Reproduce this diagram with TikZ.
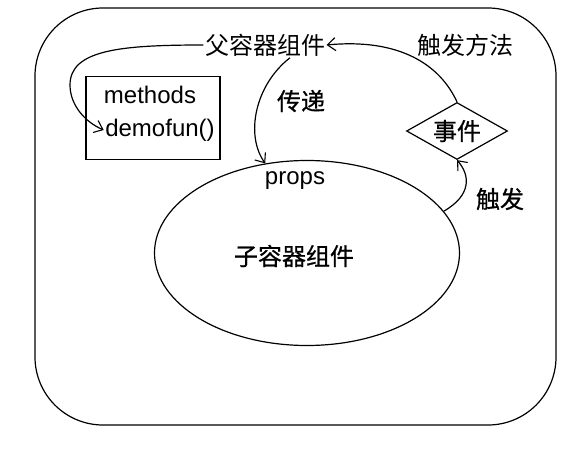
\documentclass[tikz,border=0pt]{standalone}
\usepackage{fontspec}
\setmainfont{Liberation Sans}
\newfontfamily\cjk{Noto Sans CJK SC}
\newfontfamily\cjkb[FakeBold=0.8]{Noto Sans CJK SC}
\usetikzlibrary{arrows.meta,shapes.geometric}

\begin{document}
\begin{tikzpicture}[x=1pt,y=-1pt,line width=1.2pt,
                    arrow/.style = {-{Straight Barb[length=8pt,width=13pt,line width=1.1pt]}},
                    zh/.style = {font=\cjk\fontsize{24}{26}\selectfont,inner sep=1pt},
                    zhb/.style = {font=\cjkb\fontsize{24}{26}\selectfont,inner sep=1pt},
                    en/.style = {font=\fontsize{24}{26}\selectfont,inner sep=1pt}]
                    \useasboundingbox (0,0) rectangle (578,449);

                    \draw[rounded corners=68pt] (35,8) rectangle (556,425);

                    \node [zh] (parent) at (265,45) {父容器组件};
                    \node [zh] (trigmeth) at (465,45) {触发方法};

                    \node [draw, minimum width=134pt, minimum height=83pt] (box) at (153,118) {};
                    \node [en] (methods) at (150,95) {methods};
                    \node [en] (demofun) at (160,130) {demofun()};

                    \node [zhb] (pass) at (301,101) {传递};

                    \node [draw, ellipse, minimum width=305pt, minimum height=185pt] (child) at (307,253) {};
                    \node [en] (props) at (295,181) {props};
                    \node [zhb] (childtext) at (294,256) {子容器组件};

                    \node [draw, diamond, aspect=1.77, inner sep=0pt,
                           minimum width=101pt, minimum height=57pt, zhb] (event) at (457,131) {事件};
                    \node [zhb] (trig) at (500,199) {触发};

                    \draw[arrow] (parent.west) .. controls (120,45) and (70,50) .. (70,85)
                                 .. controls (70,105) and (85,122) .. (demofun.west);
                    \draw[arrow] ([xshift=25pt]parent.south) .. controls (255,85) and (245,135) .. (child.115);
                    \draw[arrow] (event.north) .. controls (440,65) and (400,38) .. (parent.east);
                    \draw[arrow] (child.17) .. controls (472,195) and (470,175) .. (event.south);
                \end{tikzpicture}
\end{document}
